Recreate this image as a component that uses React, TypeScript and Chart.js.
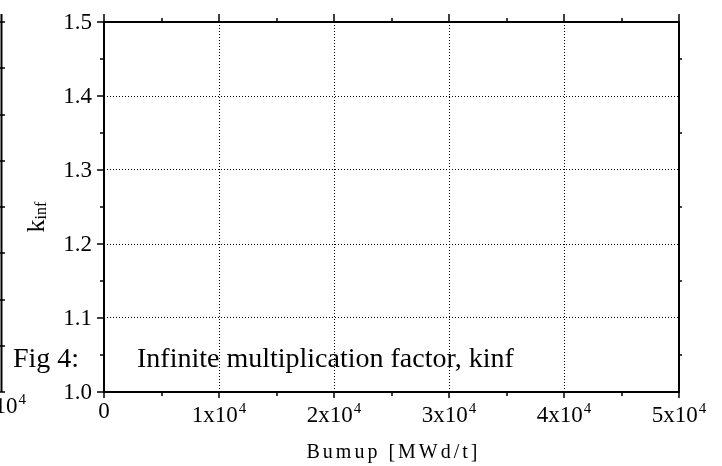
import React, { useEffect, useRef } from "react";
import { Chart, registerables } from "chart.js";

Chart.register(...registerables);

const xMin = 0;
const xMax = 50000;
const xMajorTicks = [0, 10000, 20000, 30000, 40000, 50000];
const xMinorTicks = [5000, 15000, 25000, 35000, 45000];
const xTickMantissa = ["0", "1x10", "2x10", "3x10", "4x10", "5x10"];
const xTickExponent = ["", "4", "4", "4", "4", "4"];
const yMin = 1.0;
const yMax = 1.5;
const yMajorTicks = [1.0, 1.1, 1.2, 1.3, 1.4, 1.5];
const yMinorTicks = [1.05, 1.15, 1.25, 1.35, 1.45];
const yTickLabels = ["1.0", "1.1", "1.2", "1.3", "1.4", "1.5"];
const remnantTicks = [1.0, 1.0625, 1.125, 1.1875, 1.25, 1.3125, 1.375, 1.4375, 1.5];
const kinfSeries: { x: number; y: number }[] = [];

const xTitle = "Bumup [MWd/t]";
const figLabel = "Fig 4:";
const caption = "Infinite multiplication factor, kinf";

const SERIF = "'Liberation Serif', 'Times New Roman', serif";

const decorPlugin = {
  id: "decor",
  afterDraw(chart: any) {
    const ctx = chart.ctx as CanvasRenderingContext2D;
    const ca = chart.chartArea;
    const xs = chart.scales.x;
    const ys = chart.scales.y;
    ctx.save();
    ctx.strokeStyle = "#000";
    ctx.fillStyle = "#000";

    // frame
    ctx.lineWidth = 2;
    ctx.strokeRect(ca.left, ca.top, ca.right - ca.left, ca.bottom - ca.top);

    // ticks
    ctx.lineWidth = 1.5;
    ctx.beginPath();
    xMajorTicks.forEach((v) => {
      const px = Math.round(xs.getPixelForValue(v));
      ctx.moveTo(px, ca.bottom);
      ctx.lineTo(px, ca.bottom + 6);
      ctx.moveTo(px, ca.top);
      ctx.lineTo(px, ca.top - 8);
    });
    xMinorTicks.forEach((v) => {
      const px = Math.round(xs.getPixelForValue(v));
      ctx.moveTo(px, ca.bottom);
      ctx.lineTo(px, ca.bottom + 4);
      ctx.moveTo(px, ca.top);
      ctx.lineTo(px, ca.top - 4);
    });
    yMajorTicks.forEach((v) => {
      const py = Math.round(ys.getPixelForValue(v));
      ctx.moveTo(ca.left, py);
      ctx.lineTo(ca.left - 7, py);
    });
    yMinorTicks.forEach((v) => {
      const py = Math.round(ys.getPixelForValue(v));
      ctx.moveTo(ca.left, py);
      ctx.lineTo(ca.left - 4, py);
      ctx.moveTo(ca.right, py);
      ctx.lineTo(ca.right + 3, py);
    });
    ctx.stroke();

    // y tick labels
    ctx.font = `23px ${SERIF}`;
    ctx.textAlign = "right";
    ctx.textBaseline = "middle";
    yMajorTicks.forEach((v, i) => {
      ctx.fillText(yTickLabels[i], ca.left - 12, ys.getPixelForValue(v) + 1);
    });

    // x tick labels with superscript
    const drawSup = (mant: string, exp: string, cx: number, baseY: number, align: "center" | "right") => {
      ctx.font = `23px ${SERIF}`;
      const wm = ctx.measureText(mant).width;
      ctx.font = `15px ${SERIF}`;
      const we = exp ? ctx.measureText(exp).width + 1 : 0;
      const total = wm + we;
      const start = align === "center" ? cx - total / 2 : cx - total;
      ctx.textAlign = "left";
      ctx.textBaseline = "alphabetic";
      ctx.font = `23px ${SERIF}`;
      ctx.fillText(mant, start, baseY);
      if (exp) {
        ctx.font = `15px ${SERIF}`;
        ctx.fillText(exp, start + wm + 1, baseY - 9);
      }
    };
    xMajorTicks.forEach((v, i) => {
      const px = xs.getPixelForValue(v);
      const base = xTickExponent[i] ? ca.bottom + 30 : ca.bottom + 26;
      drawSup(xTickMantissa[i], xTickExponent[i], px, base, "center");
    });

    // remnant of neighbouring figure on the left
    ctx.lineWidth = 2;
    ctx.beginPath();
    ctx.moveTo(1.5, ca.top - 8);
    ctx.lineTo(1.5, ca.bottom);
    ctx.stroke();
    ctx.lineWidth = 1.5;
    ctx.beginPath();
    remnantTicks.forEach((v) => {
      const py = Math.round(ys.getPixelForValue(v));
      ctx.moveTo(0, py);
      ctx.lineTo(5, py);
    });
    ctx.stroke();
    drawSup("5x10", "4", 26, ca.bottom + 21, "right");

    // x title
    ctx.font = `20px ${SERIF}`;
    (ctx as any).letterSpacing = "3px";
    ctx.textAlign = "center";
    ctx.textBaseline = "alphabetic";
    ctx.fillText(xTitle, (ca.left + ca.right) / 2 + 2, ca.bottom + 66);
    (ctx as any).letterSpacing = "0px";

    // y title k_inf
    ctx.save();
    ctx.translate(44, (ca.top + ca.bottom) / 2 + 10);
    ctx.rotate(-Math.PI / 2);
    ctx.textAlign = "left";
    ctx.textBaseline = "alphabetic";
    ctx.font = `26px ${SERIF}`;
    const wk = ctx.measureText("k").width;
    ctx.font = `16px ${SERIF}`;
    const wi = ctx.measureText("inf").width;
    const s0 = -(wk + wi) / 2;
    ctx.font = `26px ${SERIF}`;
    ctx.fillText("k", s0, 0);
    ctx.font = `16px ${SERIF}`;
    ctx.fillText("inf", s0 + wk, 2);
    ctx.restore();

    // caption text
    ctx.font = `28px ${SERIF}`;
    ctx.textAlign = "left";
    ctx.textBaseline = "alphabetic";
    ctx.fillText(figLabel, 13, 367);
    ctx.fillText(caption, 137, 367);

    ctx.restore();
  },
};

export default function App() {
  const ref = useRef<HTMLCanvasElement | null>(null);
  useEffect(() => {
    if (!ref.current) return;
    const chart = new Chart(ref.current, {
      type: "scatter",
      data: {
        datasets: [
          {
            label: "kinf",
            data: kinfSeries,
            borderColor: "#000",
            backgroundColor: "#000",
            showLine: true,
          },
        ],
      },
      options: {
        animation: false,
        responsive: true,
        maintainAspectRatio: false,
        layout: { padding: { left: 104, top: 22, right: 43, bottom: 74 } },
        plugins: {
          legend: { display: false },
          tooltip: { enabled: false },
          title: { display: false },
        },
        scales: {
          x: {
            type: "linear",
            min: xMin,
            max: xMax,
            ticks: { display: false, stepSize: 10000 },
            grid: { color: "#000", lineWidth: 1, drawTicks: false },
            border: { display: false, dash: [1, 2] },
          },
          y: {
            type: "linear",
            min: yMin,
            max: yMax,
            ticks: { display: false, stepSize: 0.1 },
            grid: { color: "#000", lineWidth: 1, drawTicks: false },
            border: { display: false, dash: [1, 2] },
          },
        },
      },
      plugins: [decorPlugin],
    });
    return () => chart.destroy();
  }, []);
  return (
    <div style={{ position: "absolute", left: 0, top: 0, width: 722, height: 466, background: "#fff" }}>
      <canvas ref={ref} />
    </div>
  );
}
